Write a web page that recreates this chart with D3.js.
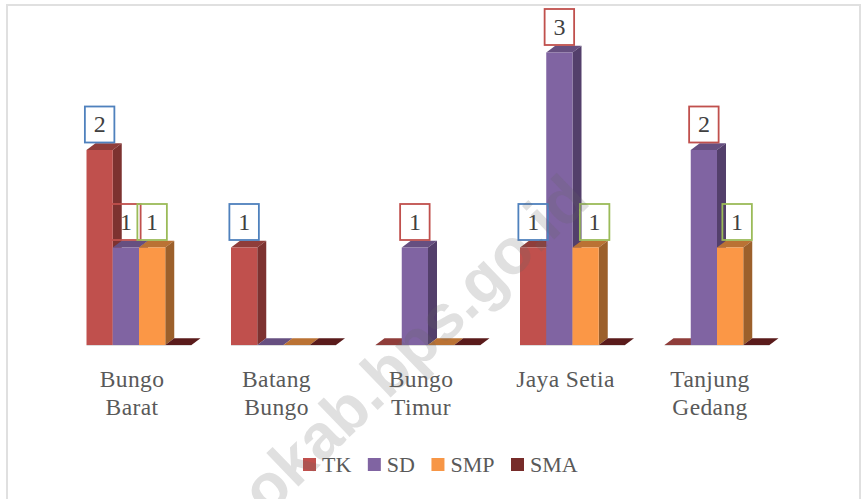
<!DOCTYPE html>
<html>
<head>
<meta charset="utf-8">
<script src="https://cdn.jsdelivr.net/npm/d3@7"></script>
<style>
  html, body { margin: 0; padding: 0; background: #fff; }
  svg { display: block; }
  text { font-family: "Liberation Serif", serif; }
</style>
</head>
<body>
<div id="chart"></div>
<script>
// Values
var categories = ["Bungo Barat", "Batang Bungo", "Bungo Timur", "Jaya Setia", "Tanjung Gedang"];
var seriesNames = ["TK", "SD", "SMP", "SMA"];
var tk = [2, 1, 0, 1, 0];
var sd = [1, 0, 1, 3, 2];
var smp = [1, 0, 0, 1, 1];
var sma = [0, 0, 0, 0, 0];
var yTicks = [0, 1, 2, 3];

var seriesValues = [tk, sd, smp, sma];

// Colours per series: front, side, top, label box
var front = ["#C0504D", "#8064A2", "#FB9746", "#772C2A"];
var side = ["#7D3230", "#533F6B", "#9C602B", "#4E1C1B"];
var top_ = ["#8F3D3A", "#664F80", "#BA7234", "#5A1B1B"];
var boxColor = ["#4F81BD", "#C0504D", "#9BBB59", "#8064A2"];

var width = 861, height = 499;
var depthX = 9, depthY = 6.7;

var svg = d3.select("#chart")
    .append("svg")
    .attr("width", width)
    .attr("height", height);

// Chart frame
svg.append("rect")
    .attr("x", 7)
    .attr("y", 5)
    .attr("width", 853)
    .attr("height", 510)
    .attr("fill", "none")
    .attr("stroke", "#e0e0e0")
    .attr("stroke-width", 2);

// Scales
var x = d3.scaleBand()
    .domain(categories)
    .range([66.75, 789.25])
    .paddingInner(0.2734)
    .paddingOuter(0.1367);

var xInner = d3.scaleBand()
    .domain(seriesNames)
    .range([0, x.bandwidth()]);

var y = d3.scaleLinear()
    .domain([yTicks[0], yTicks[yTicks.length - 1]])
    .range([345, 52.5]);

var poly = d3.line();

// Bars, drawn left to right so later ones cover earlier sides
categories.forEach(function(cat, c) {
    var g = svg.append("g").attr("class", "group");
    seriesNames.forEach(function(name, s) {
        var v = seriesValues[s][c];
        var x0 = x(cat) + xInner(name), x1 = x0 + xInner.bandwidth();
        var yTop = y(v), yBase = y(0);

        // top face (all that shows of a zero bar)
        g.append("path")
            .attr("d", poly([[x0, yTop], [x1, yTop], [x1 + depthX, yTop - depthY], [x0 + depthX, yTop - depthY]]) + "Z")
            .attr("fill", top_[s]);

        if (v > 0) {
            g.append("path")
                .attr("d", poly([[x1, yTop], [x1 + depthX, yTop - depthY], [x1 + depthX, yBase - depthY], [x1, yBase]]) + "Z")
                .attr("fill", side[s]);
            g.append("rect")
                .attr("x", x0)
                .attr("y", yTop)
                .attr("width", xInner.bandwidth())
                .attr("height", yBase - yTop)
                .attr("fill", front[s]);
        }
    });
});

// Faint line under the bars
svg.append("g").selectAll("line")
    .data(categories)
    .enter()
    .append("line")
    .attr("x1", function(d) { return x(d); })
    .attr("x2", function(d) { return x(d) + x.bandwidth(); })
    .attr("y1", y(0) + 0.5)
    .attr("y2", y(0) + 0.5)
    .attr("stroke", "#ddd")
    .attr("stroke-width", 1);

// Data labels; a couple were dragged sideways in the original
var labelShift = { "Jaya Setia|SMP": 9, "Tanjung Gedang|SMP": 7 };

categories.forEach(function(cat, c) {
    seriesNames.forEach(function(name, s) {
        var v = seriesValues[s][c];
        if (v === 0) return;
        var cx = x(cat) + xInner(name) + xInner.bandwidth() / 2 + (labelShift[cat + "|" + name] || 0);
        var bottom = y(v) - 7.5;
        svg.append("rect")
            .attr("x", cx - 14.75)
            .attr("y", bottom - 36)
            .attr("width", 29.5)
            .attr("height", 36)
            .attr("fill", "none")
            .attr("stroke", boxColor[s])
            .attr("stroke-width", 1.8);
        svg.append("text")
            .attr("x", cx)
            .attr("y", bottom - 10.5)
            .attr("text-anchor", "middle")
            .attr("font-size", 24)
            .attr("fill", "#404040")
            .text(v);
    });
});

// Category axis
var axis = svg.append("g")
    .attr("transform", "translate(-7," + y(0) + ")")
    .call(d3.axisBottom(x).tickSize(0));

axis.select(".domain").remove();

axis.selectAll(".tick text").each(function(d) {
    var t = d3.select(this).text(null).attr("dy", null).attr("y", 0);
    var words = d === "Jaya Setia" ? [d] : d.split(" ");
    words.forEach(function(w, i) {
        t.append("tspan")
            .attr("x", 0)
            .attr("y", 42 + i * 28)
            .text(w);
    });
    t.attr("font-family", null)
        .attr("font-size", null)
        .style("font-family", '"Liberation Serif", serif')
        .style("font-size", "23.5px")
        .style("letter-spacing", "0.4px")
        .attr("fill", "#595959");
});

// Legend
var legendX = 303;
seriesNames.forEach(function(name, s) {
    svg.append("rect")
        .attr("x", legendX)
        .attr("y", 458)
        .attr("width", 13)
        .attr("height", 13)
        .attr("fill", s === 2 ? "#F79646" : front[s]);
    var label = svg.append("text")
        .attr("x", legendX + 19)
        .attr("y", 472)
        .attr("font-size", 22)
        .attr("fill", "#595959")
        .text(name);
    legendX += 19 + label.node().getComputedTextLength() + 16.5;
});

// Watermark over everything
svg.append("text")
    .attr("transform", "translate(592,203) rotate(-44)")
    .attr("text-anchor", "end")
    .style("font-family", '"Liberation Sans", sans-serif')
    .style("font-weight", "bold")
    .style("font-size", "64px")
    .attr("fill", "#666")
    .attr("fill-opacity", 0.2)
    .text("okab.bps.go.id");
</script>
</body>
</html>
